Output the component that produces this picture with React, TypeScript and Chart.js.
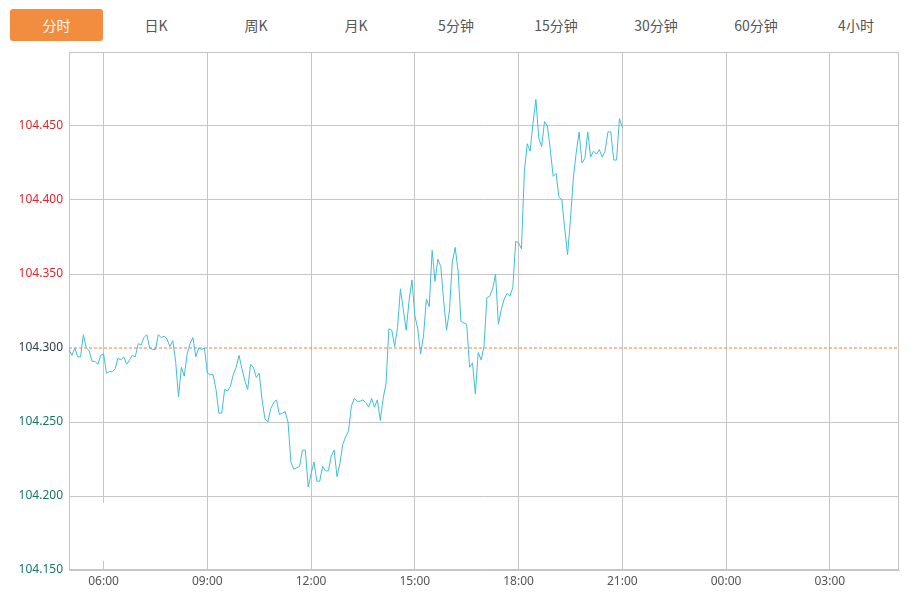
import React, { useEffect, useRef } from "react";
import { Chart, registerables } from "chart.js";

Chart.register(...registerables);

const tabs = ["分时", "日K", "周K", "月K", "5分钟", "15分钟", "30分钟", "60分钟", "4小时"];
const activeTab = 0;

const startTime = "05:00";
const stepMinutes = 5;
const prevClose = 104.3;

const prices = [
  104.299, 104.295, 104.300, 104.294, 104.294, 104.309, 104.300, 104.298, 104.291, 104.291,
  104.289, 104.295, 104.296, 104.283, 104.284, 104.284, 104.286, 104.293, 104.292, 104.294,
  104.289, 104.292, 104.295, 104.294, 104.303, 104.302, 104.307, 104.309, 104.300, 104.299,
  104.299, 104.309, 104.307, 104.308, 104.306, 104.301, 104.305, 104.291, 104.267, 104.287,
  104.281, 104.296, 104.303, 104.307, 104.294, 104.300, 104.299, 104.300, 104.283, 104.282,
  104.282, 104.272, 104.256, 104.256, 104.272, 104.271, 104.274, 104.282, 104.287, 104.295,
  104.286, 104.278, 104.272, 104.289, 104.287, 104.280, 104.283, 104.265, 104.252, 104.250,
  104.259, 104.263, 104.265, 104.255, 104.256, 104.257, 104.250, 104.223, 104.218, 104.219,
  104.220, 104.231, 104.231, 104.206, 104.215, 104.223, 104.210, 104.210, 104.220, 104.217,
  104.217, 104.227, 104.231, 104.213, 104.222, 104.235, 104.240, 104.244, 104.261, 104.266,
  104.264, 104.264, 104.265, 104.263, 104.260, 104.266, 104.260, 104.265, 104.251, 104.266,
  104.276, 104.313, 104.312, 104.301, 104.314, 104.340, 104.326, 104.312, 104.332, 104.346,
  104.322, 104.313, 104.296, 104.308, 104.333, 104.328, 104.366, 104.345, 104.360, 104.355,
  104.332, 104.312, 104.325, 104.358, 104.368, 104.352, 104.318, 104.317, 104.316, 104.287,
  104.290, 104.269, 104.297, 104.292, 104.301, 104.334, 104.335, 104.340, 104.350, 104.316,
  104.326, 104.333, 104.337, 104.335, 104.341, 104.372, 104.371, 104.367, 104.419, 104.438,
  104.433, 104.452, 104.468, 104.442, 104.436, 104.453, 104.450, 104.434, 104.416, 104.418,
  104.402, 104.400, 104.381, 104.363, 104.387, 104.415, 104.432, 104.446, 104.425, 104.428,
  104.446, 104.429, 104.433, 104.431, 104.434, 104.429, 104.433, 104.446, 104.446, 104.427,
  104.427, 104.455, 104.449,
];

const xTickLabels = ["06:00", "09:00", "12:00", "15:00", "18:00", "21:00", "00:00", "03:00"];
const yTicks = [104.15, 104.2, 104.25, 104.3, 104.35, 104.4, 104.45, 104.5];
const yMin = 104.15;
const yMax = 104.5;
const sessionMinutes = 1440;

const toMin = (s: string) => {
  const [h, m] = s.split(":").map(Number);
  return h * 60 + m;
};
const startMin = toMin(startTime);
const offsetOf = (s: string) => (toMin(s) - startMin + 1440) % 1440;

const GRID = "#c6c6c6";
const FONT = "'Noto Sans', 'Noto Sans CJK SC', sans-serif";

const frameAndMask = {
  id: "frameAndMask",
  beforeDatasetsDraw(chart: any) {
    const { ctx, chartArea, scales } = chart;
    ctx.save();
    // faint overlay box seen in the lower-left corner of the reference
    const x0 = chartArea.left + 1;
    const x1 = scales.x.getPixelForValue(offsetOf("09:00")) - 1;
    const y0 = scales.y.getPixelForValue(104.2) + 7;
    const y1 = chartArea.bottom - 9;
    ctx.fillStyle = "#ffffff";
    ctx.fillRect(x0, y0, x1 - x0, y1 - y0);
    ctx.strokeStyle = GRID;
    ctx.lineWidth = 1;
    ctx.strokeRect(
      Math.round(chartArea.left) + 0.5,
      Math.round(chartArea.top) + 0.5,
      Math.round(chartArea.right - chartArea.left) - 1,
      Math.round(chartArea.bottom - chartArea.top) - 1
    );
    ctx.restore();
  },
};

function PriceChart() {
  const ref = useRef<HTMLCanvasElement>(null);
  useEffect(() => {
    if (!ref.current) return;
    const lineData = prices.map((p, i) => ({ x: i * stepMinutes, y: p }));
    const chart = new Chart(ref.current, {
      type: "line",
      data: {
        datasets: [
          {
            data: [
              { x: 0, y: prevClose },
              { x: sessionMinutes, y: prevClose },
            ],
            borderColor: "#f47f45",
            borderWidth: 1,
            borderDash: [3, 2],
            pointRadius: 0,
            order: 2,
          },
          {
            data: lineData,
            borderColor: "#3ebfd8",
            borderWidth: 1,
            pointRadius: 0,
            tension: 0,
            order: 1,
          },
        ],
      },
      plugins: [frameAndMask],
      options: {
        animation: false,
        responsive: false,
        devicePixelRatio: 1,
        events: [],
        layout: { padding: { top: 2, right: 11, left: 0, bottom: 0 } },
        plugins: {
          legend: { display: false },
          tooltip: { enabled: false },
        },
        scales: {
          x: {
            type: "linear",
            min: 0,
            max: sessionMinutes,
            afterBuildTicks: (s: any) => {
              s.ticks = xTickLabels.map((l) => ({ value: offsetOf(l) }));
            },
            afterFit: (s: any) => {
              s.height = 25;
              s.paddingLeft = 0;
              s.paddingRight = 0;
            },
            ticks: {
              autoSkip: false,
              maxRotation: 0,
              padding: 4,
              color: "#555",
              font: { family: FONT, size: 12 },
              callback: (v: any) => {
                const idx = xTickLabels.findIndex((l) => offsetOf(l) === v);
                return idx >= 0 ? xTickLabels[idx] : "";
              },
            },
            grid: { color: GRID, drawTicks: false },
            border: { color: GRID },
          },
          y: {
            min: yMin,
            max: yMax,
            afterBuildTicks: (s: any) => {
              s.ticks = yTicks.map((v) => ({ value: v }));
            },
            afterFit: (s: any) => {
              s.width = 69;
              s.paddingTop = 0;
              s.paddingBottom = 0;
            },
            ticks: {
              padding: 6,
              font: { family: FONT, size: 12 },
              color: (c: any) => {
                const v = c.tick.value;
                if (v > prevClose + 1e-6) return "#e3262a";
                if (v < prevClose - 1e-6) return "#16786a";
                return "#2e3d4f";
              },
              callback: (v: any) => (Math.abs(v - yMax) < 1e-6 ? "" : Number(v).toFixed(3)),
            },
            grid: {
              drawTicks: false,
              color: (c: any) =>
                c.tick && Math.abs(c.tick.value - prevClose) < 1e-6 ? "rgba(0,0,0,0)" : GRID,
            },
            border: { color: GRID },
          },
        },
      },
    });
    return () => chart.destroy();
  }, []);
  return <canvas ref={ref} width={910} height={545} style={{ display: "block" }} />;
}

export default function App() {
  return (
    <div
      style={{
        position: "fixed",
        left: 0,
        top: 0,
        width: 910,
        height: 595,
        background: "#fff",
        fontFamily: "'Noto Sans CJK SC', 'Noto Sans', sans-serif",
      }}
    >
      <div style={{ position: "relative", height: 50 }}>
        {tabs.map((t, i) => (
          <div
            key={t}
            style={{
              position: "absolute",
              left: 6 + i * 100 + (i === activeTab ? 4 : 0),
              top: 9,
              width: i === activeTab ? 93 : 100,
              height: 32,
              lineHeight: "32px",
              textAlign: "center",
              fontSize: 14,
              color: i === activeTab ? "#fff" : "#555",
              background: i === activeTab ? "#f28c3f" : "transparent",
              borderRadius: 3,
            }}
          >
            {t}
          </div>
        ))}
      </div>
      <PriceChart />
    </div>
  );
}
